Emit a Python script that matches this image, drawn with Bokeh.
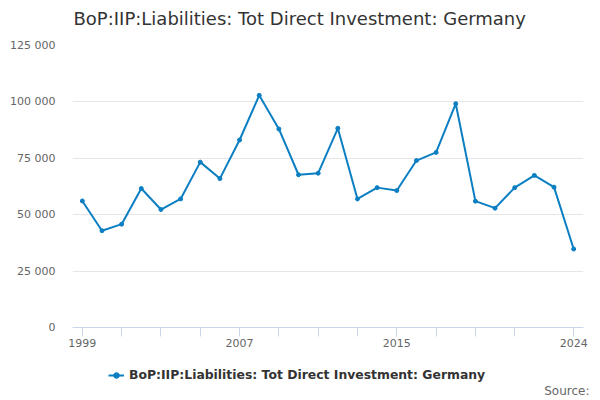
from bokeh.embed import file_html
from bokeh.layouts import column
from bokeh.models import FixedTicker, Label, Legend, LegendItem, Range1d
from bokeh.plotting import figure
from bokeh.resources import INLINE

# Series values
years = list(range(1999, 2025))
values = [56100, 42900, 45800, 61600, 52300, 57000, 73300, 66000, 83100, 102900,
          88000, 67700, 68400, 88300, 57000, 62000, 60700, 74000, 77600, 99200,
          56000, 52900, 62000, 67400, 62200, 34800]

series_name = "BoP:IIP:Liabilities: Tot Direct Investment: Germany"
x_ticks = [1999, 2001, 2003, 2005, 2007, 2009, 2011, 2013, 2015, 2017, 2019, 2021, 2024]
x_labels = {1999: "1999", 2007: "2007", 2015: "2015", 2024: "2024"}
y_ticks = [0, 25000, 50000, 75000, 100000, 125000]
source_text = "Source:"

FONT = "DejaVu Sans"
BLUE = "#0b7fc2"


def strip(height):
    # blank figure whose frame covers it all, 1 data unit = 1 px
    # (frame_align off, so the column does not line it up with the chart's frame)
    f = figure(width=600, height=height, output_backend="svg", toolbar_location=None,
               x_range=Range1d(0, 600), y_range=Range1d(0, height),
               min_border=0, min_border_left=0, min_border_right=0,
               min_border_top=0, min_border_bottom=0, frame_align=False)
    f.axis.visible = False
    f.grid.grid_line_color = None
    f.outline_line_color = None
    return f


# Title strip
head = strip(30)
head.add_layout(Label(x=73, y=12, text=series_name, text_align="left",
                      text_baseline="middle", text_font=FONT,
                      text_font_size="18px", text_color="#333333"))

# Main chart
p = figure(width=600, height=322, output_backend="svg", toolbar_location=None,
           x_range=Range1d(1998.5, 2024.5), y_range=Range1d(0, 125000),
           min_border_left=72, min_border_right=17, min_border_top=15,
           min_border_bottom=25)
p.outline_line_color = None

r_line = p.line(years, values, line_color=BLUE, line_width=2)
r_pts = p.scatter(years, values, size=4, fill_color=BLUE, line_color=BLUE)

p.xaxis.ticker = FixedTicker(ticks=x_ticks)
p.xaxis.major_label_overrides = {t: x_labels.get(t, "") for t in x_ticks}
p.xaxis.axis_line_color = "#ccd6eb"
p.xaxis.major_tick_line_color = "#ccd6eb"
p.xaxis.major_tick_out = 9
p.xaxis.major_tick_in = 0
p.xaxis.minor_tick_line_color = None
p.xaxis.major_label_text_font = FONT
p.xaxis.major_label_text_font_size = "11px"
p.xaxis.major_label_text_color = "#666666"
p.xaxis.major_label_standoff = 2

p.yaxis.ticker = FixedTicker(ticks=y_ticks)
p.yaxis.major_label_overrides = {t: f"{t:,}".replace(",", " ") for t in y_ticks}
p.yaxis.axis_line_color = None
p.yaxis.major_tick_line_color = None
p.yaxis.minor_tick_line_color = None
p.yaxis.major_tick_out = 0
p.yaxis.major_tick_in = 0
p.yaxis.major_label_text_font = FONT
p.yaxis.major_label_text_font_size = "11px"
p.yaxis.major_label_text_color = "#666666"
p.yaxis.major_label_standoff = 17

p.xgrid.grid_line_color = None
p.ygrid.grid_line_color = "#e6e6e6"
p.ygrid.ticker = FixedTicker(ticks=y_ticks)

# Legend + source strip
foot = strip(48)
# placeholder renderers (no visible data) that only give the legend its glyph
nan = float("nan")
l_line = foot.line([nan], [nan], line_color=BLUE, line_width=2)
l_pts = foot.scatter([nan], [nan], size=4, fill_color=BLUE, line_color=BLUE)
legend = Legend(items=[LegendItem(label=series_name, renderers=[l_line, l_pts])],
                orientation="horizontal", location=(108, 18),
                label_text_font=FONT, label_text_font_size="12.4px",
                label_text_font_style="bold", label_text_color="#333333",
                glyph_width=16, glyph_height=14, label_standoff=5,
                padding=4, margin=0, border_line_color=None,
                background_fill_alpha=0)
foot.add_layout(legend, "center")

foot.add_layout(Label(x=589, y=10, text=source_text, text_align="right",
                      text_baseline="middle", text_font=FONT,
                      text_font_size="12px", text_color="#666666"))

open("out.html", "w").write(file_html(column(head, p, foot, spacing=0), INLINE))
